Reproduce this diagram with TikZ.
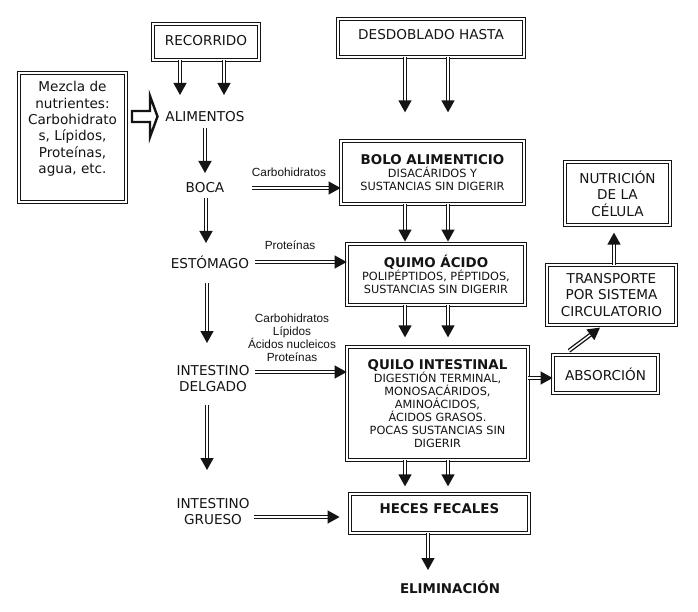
\documentclass[tikz,border=0pt]{standalone}
\usepackage{fontspec}
\setmainfont{DejaVu Sans}
\newfontfamily\labfont{Liberation Sans}
\usetikzlibrary{arrows.meta,calc}
\newcommand\mainf{\fontsize{13.6}{16.3}\selectfont}
\newcommand\detf{\fontsize{11.3}{13}\selectfont}
\newcommand\titf{\fontsize{13.4}{15}\selectfont\bfseries}
\newcommand\upby[2]{\raisebox{#1}[0pt][0pt]{\begin{tabular}{@{}c@{}}#2\end{tabular}}}
\colorlet{ink}{black!92}
\begin{document}
\begin{tikzpicture}[x=1pt,y=-1pt,
  box/.style={draw=ink, double=white, line width=1.25pt, double distance=1.7pt, align=center, inner sep=0pt, text=ink, font=\detf},
  plain/.style={align=center, inner sep=1pt, text=ink, font=\mainf},
  lab/.style={align=center, inner sep=1pt, text=ink, font=\labfont\fontsize{11.8}{13}\selectfont},
  dar/.style={draw=ink, double=white, line width=1.35pt, double distance=1.5pt, -{Triangle[width=13pt,length=12pt]}}
]
\useasboundingbox[fill=white] (0,0) rectangle (698,612);

% boxes
\node[box, font=\mainf, minimum width=105.6, minimum height=35.6] (recorrido) at (206,42) {\raisebox{4pt}{RECORRIDO}};
\node[box, font=\mainf, minimum width=185.6, minimum height=37.6] (desdoblado) at (431,38) {\raisebox{8pt}{DESDOBLADO HASTA}};
\node[box, font=\mainf, minimum width=106.6, minimum height=128.6] (mezcla) at (72.5,137.5)
  {\upby{4.5pt}{Mezcla de\\nutrientes:\\Carbohidrato\\s, Lípidos,\\Proteínas,\\agua, etc.}};
\node[box, minimum width=182.6, minimum height=62.6] (bolo) at (432.5,172.5)
  {{\titf BOLO ALIMENTICIO}\\DISACÁRIDOS Y\\SUSTANCIAS SIN DIGERIR};
\node[box, font=\mainf, minimum width=104.6, minimum height=62.6] (nutricion) at (617.5,193.5)
  {NUTRICIÓN\\DE LA\\CÉLULA};
\node[box, font=\mainf, minimum width=128.6, minimum height=59.6] (transporte) at (611.5,295)
  {TRANSPORTE\\POR SISTEMA\\CIRCULATORIO};
\node[box, font=\mainf, minimum width=104.6, minimum height=37.6] (absorcion) at (605.5,374)
  {ABSORCIÓN};
\node[box, minimum width=177.6, minimum height=60.6] (quimo) at (436,274.5)
  {{\titf QUIMO ÁCIDO}\\POLIPÉPTIDOS, PÉPTIDOS,\\SUSTANCIAS SIN DIGERIR};
\node[box, minimum width=180.6, minimum height=112.6] (quilo) at (437.5,403.5)
  {{\titf QUILO INTESTINAL}\\DIGESTIÓN TERMINAL,\\MONOSACÁRIDOS,\\AMINOÁCIDOS,\\ÁCIDOS GRASOS.\\POCAS SUSTANCIAS SIN\\DIGERIR};
\node[box, minimum width=178.6, minimum height=38.6] (heces) at (439.5,513.5)
  {\raisebox{9pt}{\titf HECES FECALES}};

% plain texts
\node[plain] (alimentos) at (205,117) {ALIMENTOS};
\node[plain] (boca) at (205,188) {BOCA};
\node[plain] (estomago) at (210,262) {ESTÓMAGO};
\node[plain] (delgado) at (213,378.5) {INTESTINO\\DELGADO};
\node[plain] (grueso) at (213,511.5) {INTESTINO\\GRUESO};
\node[plain, font=\titf] (eliminacion) at (450,587) {ELIMINACIÓN};

% small labels
\node[lab] (lcarb) at (289,172) {Carbohidratos};
\node[lab] (lprot) at (290,245) {Proteínas};
\node[lab] (lmix) at (292,337.5) {Carbohidratos\\Lípidos\\Ácidos nucleicos\\Proteínas};

% block arrow mezcla -> alimentos
\draw[ink, line width=2.4pt, fill=white, line join=miter]
  (132,111) -- (150,111) -- (150,96) -- (157.5,116.5) -- (150,137) -- (150,122) -- (132,122) -- cycle;

% arrows
\draw[dar] ([xshift=-26]recorrido.south) -- ($(alimentos.center)+(-25,-22)$);
\draw[dar] ([xshift=18]recorrido.south) -- ($(alimentos.center)+(19,-22)$);
\draw[dar] ([xshift=-26]desdoblado.south) -- ($(bolo.north)+(-27.5,-28.2)$);
\draw[dar] ([xshift=17]desdoblado.south) -- ($(bolo.north)+(15.5,-28.2)$);

\draw[dar] ($(alimentos.center)+(0,11)$) -- ($(boca.center)+(0,-15)$);
\draw[dar] ($(boca.center)+(1,10)$) -- ($(estomago.center)+(-4,-19)$);
\draw[dar] ($(estomago.center)+(-3,21)$) -- ($(delgado.center)+(-6,-35.5)$);
\draw[dar] ($(delgado.center)+(-6,26.5)$) -- ($(grueso.center)+(-6,-41.5)$);

\draw[dar] ($(boca.center)+(47,0)$) -- ($(bolo.west)+(0,15.5)$);
\draw[dar] ($(estomago.center)+(45,0)$) -- ($(quimo.west)+(0,-12.5)$);
\draw[dar] ($(delgado.center)+(42,-6.5)$) -- ($(quilo.west)+(0,-31.5)$);
\draw[dar] ($(grueso.center)+(41,5.5)$) -- ($(heces.west)+(-10,3.5)$);

\draw[dar] ([xshift=-27.5]bolo.south) -- ($(quimo.north)+(-31,-2)$);
\draw[dar] ([xshift=15.5]bolo.south) -- ($(quimo.north)+(12,-2)$);
\draw[dar] ([xshift=-31]quimo.south) -- ($(quilo.north)+(-32.5,-9.2)$);
\draw[dar] ([xshift=12]quimo.south) -- ($(quilo.north)+(10.5,-9.2)$);
\draw[dar] ([xshift=-32.5]quilo.south) -- ($(heces.north)+(-34.5,-7.2)$);
\draw[dar] ([xshift=10.5]quilo.south) -- ($(heces.north)+(8.5,-7.2)$);
\draw[dar] ([xshift=-11.5]heces.south) -- ($(eliminacion.center)+(-22,-17)$);

\draw[dar] ($(quilo.east)+(0,-25.5)$) -- ($(absorcion.west)+(0,4)$);
\draw[dar] ($(absorcion.north)+(-36.5,-3.8)$) -- ($(transporte.south)+(-11.5,2.2)$);
\draw[dar] ([xshift=2.5]transporte.north) -- ($(nutricion.south)+(-3.5,7.2)$);
\end{tikzpicture}
\end{document}
